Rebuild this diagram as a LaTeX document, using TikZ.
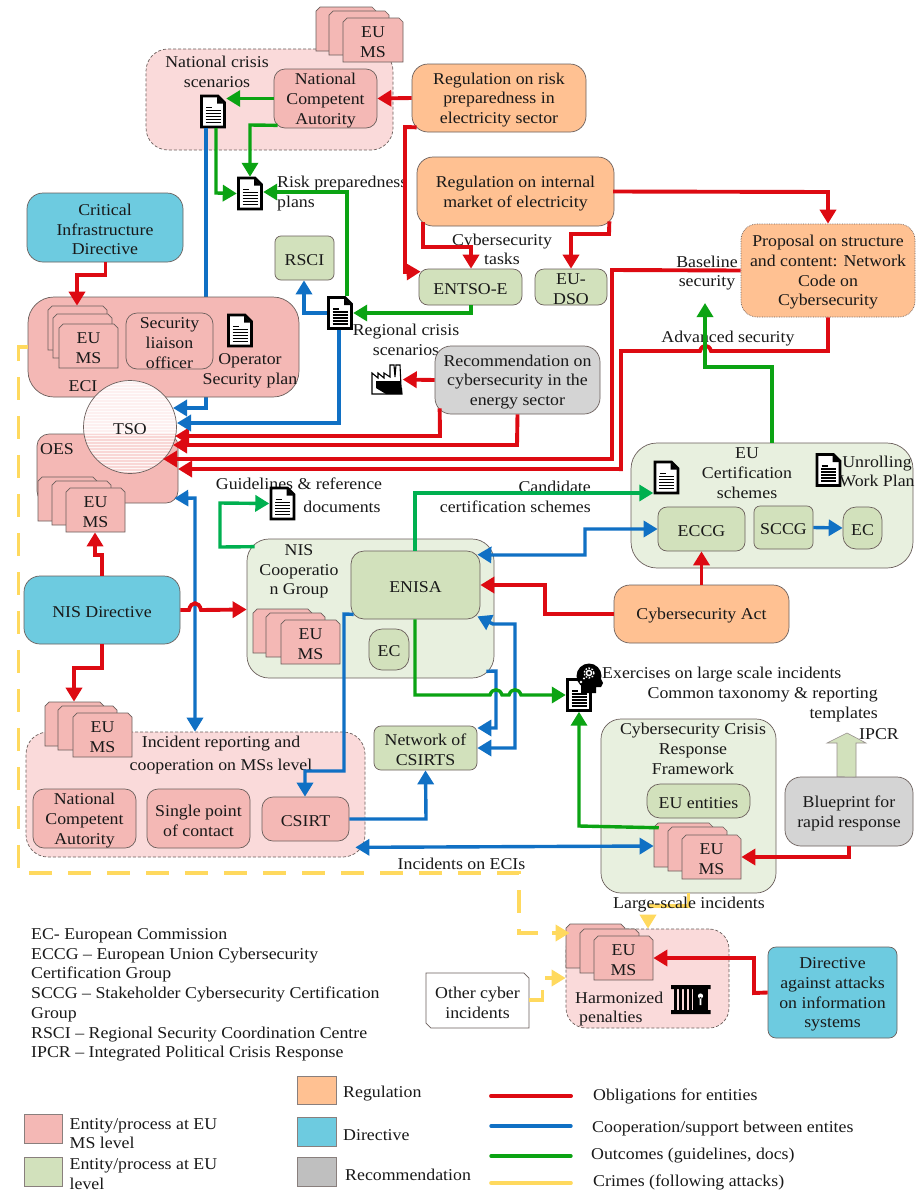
\documentclass[tikz,border=0pt]{standalone}
\usepackage{fontspec}
\setmainfont[FakeStretch=1.08]{Liberation Serif}
\usetikzlibrary{arrows.meta,shapes.misc,calc}
\definecolor{edge}{HTML}{6B5F5C}
\definecolor{palepink}{HTML}{FADADA}
\definecolor{pink}{HTML}{F4B8B5}
\definecolor{palegreen}{HTML}{E8F0DF}
\definecolor{midgreen}{HTML}{D2E1BC}
\definecolor{orange}{HTML}{FFC192}
\definecolor{dirblue}{HTML}{6DCBE0}
\definecolor{recgray}{HTML}{D4D4D4}
\definecolor{redl}{HTML}{DD0A12}
\definecolor{bluel}{HTML}{1070C4}
\definecolor{greenl}{HTML}{0BA313}
\definecolor{lgreenl}{HTML}{00B050}
\definecolor{yell}{HTML}{FFD95E}
\tikzset{
  every node/.style={font=\fontsize{16.5}{19.7}\selectfont,text=black!90,align=center,inner sep=0pt},
  rbox/.style={draw=edge,line width=.7pt,rounded corners=#1},
  rbox/.default=12pt,
  pinkbox/.style={rbox=#1,fill=pink},
  pinkbox/.default=12pt,
  greenbox/.style={rbox=#1,fill=midgreen},
  greenbox/.default=8pt,
  palegbox/.style={rbox=#1,fill=palegreen},
  orangebox/.style={rbox=16pt,fill=orange},
  bluebox/.style={rbox=16pt,fill=dirblue},
  graybox/.style={rbox=16pt,fill=recgray},
  dashbox/.style={draw=edge,line width=.7pt,densely dashed,fill=palepink,rounded corners=#1},
  lbl/.style={yshift=-2pt},
  lft/.style={align=left,anchor=west},
  rgt/.style={align=right,anchor=east},
  snip/.style={chamfered rectangle,chamfered rectangle corners={north west,north east},
     chamfered rectangle xsep=4pt,chamfered rectangle ysep=5pt,draw=edge,line width=.7pt,fill=pink},
  tip/.style={-{Triangle[length=14pt,width=16pt]}},
  tips/.style={{Triangle[length=14pt,width=16pt]}-{Triangle[length=14pt,width=16pt]}},
  rl/.style={draw=redl,line width=3.9pt,line join=miter},
  bl/.style={draw=bluel,line width=3.4pt,line join=miter},
  gl/.style={draw=greenl,line width=3.4pt,line join=miter},
  lg/.style={draw=lgreenl,line width=3.4pt,line join=miter},
  yl/.style={draw=yell,line width=3.6pt,dash pattern=on 23pt off 16pt},
  ys/.style={draw=yell,line width=3.6pt},
  swatch/.style={draw=edge!80,line width=.9pt},
}
\newcommand\bx[7]{%
  \pgfmathsetmacro\bw{#5-#3}\pgfmathsetmacro\bh{#6-#4}%
  \node[#2,minimum width=\bw pt,minimum height=\bh pt] (#1) at ({(#3+#5)/2},{(#4+#6)/2}) {};
  \node[lbl] (#1t) at (#1.center) {#7};}
\newcommand\stk[8]{%
  \node[snip,minimum width=#4pt,minimum height=44pt] (#1b) at ({#7+#4/2},{#8+22}) {\rule{0pt}{15pt}};
  \node[snip,minimum width=#4pt,minimum height=44pt] (#1m) at ({#5+#4/2},{#6+22}) {\rule{0pt}{15pt}};
  \node[snip,minimum width=#4pt,minimum height=44pt] (#1) at ({#2+#4/2},{#3+22}) {\rule{0pt}{15pt}};
  \node[lbl] (#1t) at (#1.center) {EU\\MS};}
\newcommand\doc[3]{%
  \node[minimum width=26pt,minimum height=33pt] (#1) at (#2,#3) {};
  \begin{scope}[shift={(#2,#3)}]
    \draw[line width=2.6pt,fill=white,line join=miter] (-11.5,-15.5) -- (5,-15.5) -- (11.5,-9) -- (11.5,15.5) -- (-11.5,15.5) -- cycle;
    \fill (4,-15) -- (4,-8) -- (11,-8) -- cycle;
    \draw[line width=1.2pt] (-7,-4) -- (-1,-4);
    \foreach \yy in {-1,2,5,8,11} {\draw[line width=1.4pt] (-7.5,\yy) -- (7.5,\yy);}
  \end{scope}}
\begin{document}
\begin{tikzpicture}[x=1pt,y=-1pt]
\useasboundingbox (0,0) rectangle (922,1200);
\fill[white] (0,0) rectangle (922,1200);

% ---- National crisis group
\bx{natbox}{dashbox=22pt}{146}{49}{393}{150}{}
\stk{topms}{343}{18}{60}{329}{11}{316}{7}
\bx{nca}{pinkbox=11pt}{274}{69}{377}{128}{National\\Competent\\Autority}
\node[lbl] (natlbl) at (217,70) {National crisis\\scenarios};
\doc{dnat}{213}{111.5}
\doc{drisk}{250}{193.5}
\node[lbl,lft] (risklbl) at (277,191.5) {Risk preparedness\\plans};

% ---- blue line passing behind ECI
\draw[bl,tip] (dnat.south -| 206,0) -- (206,408) -- (173,408);

% ---- Left column
\bx{cid}{bluebox}{27}{193}{183}{262}{Critical\\Infrastructure\\Directive}
\bx{eci}{pinkbox=26pt}{28}{297}{299}{397}{}
\stk{ecims}{59}{324}{59}{53}{314}{48}{306}
\bx{slo}{rbox=11pt}{126}{313}{213}{369}{Security\\liaison\\officer}
\doc{dop}{240}{330.5}
\node[lbl] (oplbl) at (250,368.5) {Operator\\Security plan};
\node[lbl] (ecilbl) at (83,384) {ECI};
\bx{oes}{pinkbox=12pt}{37}{434}{178}{503}{}
\node[lbl] (oeslbl) at (57,447) {OES};
\stk{oesms}{66}{488}{59}{52}{481}{38}{477}
% TSO
\begin{scope}
  \clip (130,427) circle (46.5);
  \fill[white!60!palepink] (80,375) rectangle (180,434);
  \fill[palepink!90!pink] (80,434) rectangle (180,480);
  \foreach \yy in {381,384,...,474} {\draw[white,line width=.5pt,opacity=.8] (80,\yy) -- (180,\yy);}
\end{scope}
\node[circle,draw=edge,line width=.7pt,minimum size=93pt] (tso) at (130,427) {};
\node[lbl] (tsot) at (tso.center) {TSO};
\bx{nisd}{bluebox}{24}{576}{180}{644}{NIS Directive}

% ---- Top middle
\bx{reg1}{orangebox}{412}{64}{586}{132}{Regulation on risk\\preparedness in\\electricity sector}
\bx{reg2}{orangebox}{417}{157}{614}{226}{Regulation on internal\\market of electricity}
\bx{rsci}{greenbox=6pt}{275}{236}{334}{280}{RSCI}
\bx{entso}{greenbox=9pt}{419}{269}{522}{305}{ENTSO-E}
\bx{dso}{greenbox=9pt}{535}{269}{607}{305}{EU-\\DSO}
\node[lbl] (cytask) at (502,247.5) {Cybersecurity\\tasks};
\bx{prop}{rbox=16pt,fill=orange,densely dotted}{741}{224}{915}{317}{Proposal on structure\\and content: Network\\Code on\\Cybersecurity}
\node[lbl] (baselbl) at (707,271) {Baseline\\security};
\node[lbl] (advlbl) at (728,337) {Advanced security};
\doc{dreg}{340}{313}
\node[lbl] (reglbl) at (406,338) {Regional crisis\\scenarios};
\bx{rec}{graybox}{435}{346}{600}{414}{Recommendation on\\cybersecurity in the\\energy sector}
% factory icon
\node[minimum width=31pt,minimum height=31pt] (fact) at (387,379.5) {};
\draw[line width=1.1pt,fill=white,line join=miter] (372,394) -- (372,373) -- (378,378) -- (378,373) -- (384,378) -- (384,373) -- (390,377) -- (390,365) -- (394,365) -- (395,377) -- (396,365) -- (400,365) -- (401,386) -- (402,394) -- cycle;
\fill (376,381) rectangle (401,388);
\fill (376,388) -- (402,388) -- (402,394) -- (386,394) -- cycle;

% ---- Cert schemes
\bx{cert}{palegbox=26pt}{631}{443}{913}{568}{}
\doc{dcert}{666.5}{477.5}
\doc{dunr}{828.5}{470}
\node[lbl] (certlbl) at (747,471) {EU\\Certification\\schemes};
\node[lbl] (unrlbl) at (877,469.5) {Unrolling\\Work Plan};
\bx{eccg}{greenbox=9pt}{658}{507}{745}{551}{ECCG}
\bx{sccg}{greenbox=6pt}{754}{506}{813}{549}{SCCG}
\bx{ecb}{greenbox=13pt}{843}{507}{882}{549}{EC}
\bx{act}{orangebox}{614}{585}{789}{643}{Cybersecurity Act}
\node[lbl,rgt] (candlbl) at (591,495) {Candidate\\certification schemes};

% ---- NIS cooperation
\node[lbl] (guide1) at (299,482) {Guidelines \& reference};
\node[lbl] (guide2) at (342,505) {documents};
\doc{dguide}{282.5}{503.5}
\bx{nisc}{palegbox=22pt}{247}{539}{494}{678}{}
\bx{enisa}{greenbox=13pt}{351}{551}{480}{619}{ENISA}
\node[lbl] (nislbl) at (299,569.5) {NIS\\Cooperatio\\n Group};
\stk{nisms}{281}{620}{59}{266}{613}{253}{609}
\bx{eca}{greenbox=13pt}{369}{629}{409}{670}{EC}

% ---- Incident reporting
\bx{inc}{dashbox=22pt}{26}{732}{365}{857}{}
\stk{incms}{73}{713}{59}{58}{706}{45}{702}
\node[lbl] (inclbl) at (221,753) {Incident reporting and\\[2.4pt]cooperation on MSs level};
\bx{nca2}{pinkbox=11pt}{33}{789}{136}{848}{National\\Competent\\Autority}
\bx{spoc}{pinkbox=11pt}{147}{789}{250}{848}{Single point\\of contact}
\bx{csirt}{pinkbox=11pt}{262}{797}{349}{841}{CSIRT}
\bx{netw}{greenbox=7pt}{374}{726}{477}{770}{Network of\\CSIRTS}
\node[lbl] (incECI) at (461.5,862) {Incidents on ECIs};

% ---- Crisis framework
\bx{crf}{palegbox=20pt}{601}{719}{776}{893}{}
\node[lbl] (crflbl) at (693,747) {Cybersecurity Crisis\\Response\\Framework};
\bx{euent}{greenbox=13pt}{647}{784}{750}{818}{EU entities}
\stk{crfms}{682}{835}{59}{668}{827}{654}{823}
\bx{blue}{graybox}{785}{777}{913}{846}{Blueprint for\\rapid response}
\node[lbl,lft] (exlbl) at (602,673) {Exercises on large scale incidents};
\node[lbl,rgt] (taxlbl) at (878,703) {Common taxonomy \& reporting\\templates};
\node[lbl] (ipcr) at (879,732) {IPCR};
\draw[draw=edge!70,line width=.6pt,fill=midgreen] (blue.north -| 837,0) -- (837,743) -- (827,743) -- (847,733) -- (866,743) -- (856,743) -- (856,777) -- cycle;
\doc{dex}{579}{695}
\fill (589,676) circle (12.5);
\fill (581,682) -- (581,693) -- (596,693) -- (596,687) -- (601,687) -- (603,683) -- (600,677) -- cycle;
\draw[white,line width=1.5pt] (589,673) circle (2.6);
\draw[white,line width=1.3pt,dash pattern=on 1.6pt off 1.6pt] (589,673) circle (5);
\fill[white] (581,682) circle (1.4) (584,678.5) circle (1.2);

% ---- Harmonized
\bx{harm}{dashbox=20pt}{566}{929}{729}{1028}{}
\stk{harmms}{594}{936}{59}{580}{929}{566}{924}
\node[lbl,lft] (harmlbl) at (575,1007) {Harmonized\\\hspace*{4pt}penalties};
\node[minimum width=39pt,minimum height=29pt] (jail) at (691,999.5) {};
\fill (671,985) rectangle (710.5,989) (671,1010) rectangle (710.5,1014);
\foreach \xx in {674,679,684,689} {\fill (\xx,985) rectangle (\xx+2.6,1014);}
\fill (693,985) rectangle (708,1014);
\fill[white] (700.5,996) circle (2.6) (699.7,997) rectangle (701.3,1005);
\node[chamfered rectangle,chamfered rectangle corners={north east,south west},chamfered rectangle xsep=5pt,chamfered rectangle ysep=7pt,draw=edge,line width=.7pt,fill=white,minimum width=103pt,minimum height=55pt] (other) at (477.5,1000.5) {\rule{0pt}{15pt}};
\node[lbl] (othert) at (other.center) {Other cyber\\incidents};
\bx{dirat}{rbox=8pt,fill=dirblue}{768}{947}{897}{1038}{Directive\\against attacks\\on information\\systems}

% ---- Red connectors
\draw[rl,tip] (reg1.west) -- (nca.east);
\draw[rl,tip] ([shift={(5,-5)}]reg1.south west) -- (405,127) -- (405,272) -- ([shift={(2,3)}]entso.north west);
\draw[rl] (reg2.south west -| 423,0) ++(0,-4) -- (423,247) -- (473,247);
\draw[rl,tip] (471,245) -- (entso.north -| 471,0);
\draw[rl,tip] ([shift={(-5,-5)}]reg2.south east) -- (609,234) -- (571,234) -- (dso.north -| 571,0);
\draw[rl,tip] (reg2.east -| 613,192) -- (828,192) -- (prop.north -| 828,0);
\draw[rl,tip] (cid.south -| 105.5,0) -- (105.5,275) -- (77,275) -- (ecimsb.north -| 77,0);
\draw[rl,tip] (rec.west) -- (fact.east);
\draw[rl,tip] ([shift={(5,-6)}]rec.south west) -- (440,436) -- (175,436);
\draw[rl,tip] (rec.south) -- (517,445) -- (173,445);
\draw[rl,tip] (prop.west) -- (612,270) -- (612,459) -- (163,459);
\draw[rl] (prop.south -| 828,0) -- (828,351) -- (711,351) .. controls (709,344) and (702,344) .. (700,351) -- (621,351) -- (621,471);
\draw[rl,tip] (623,469) -- (178,469);
\draw[rl,tip] (nisd.north -| 102,0) -- (102,555) -- (95,555) -- (oesms.south -| 95,0);
\draw[rl,tip] (nisd.south -| 102,0) -- (102,668) -- (74,668) -- (incmsb.north -| 74,0);
\draw[rl,tip] (eccg.south |- act.north) -- (eccg.south);
\draw[rl,tip] (act.west) -- (545,614) -- (545,585) -- (enisa.east);
\draw[rl,tip] (blue.south -| 849,0) -- (849,857) -- (crfms.east);
\draw[rl,tip] (dirat.west) -- (754,993) -- (754,958) -- (harmms.east);

% ---- Blue connectors
\draw[bl,tip] (dreg.west) -- (304,313) -- (rsci.south -| 304,0);
\draw[bl,tip] (dreg.south -| 339,0) -- (339,423) -- (177,423);
\draw[bl,tips] ([shift={(-4,-5)}]oes.south east) -- (195,498) -- (inc.north -| 195,0);
\draw[bl,tip] ([shift={(3,-5)}]enisa.south west) -- (344,614) -- (344,771) -- (305,771) -- (csirt.north -| 305,0);
\draw[bl,tip] (csirt.east) -- (426,819) -- (netw.south);
\draw[bl,tips] ([shift={(-3,4)}]enisa.north east) -- (494,555) -- (585,555) -- (585,529) -- (eccg.west);
\draw[bl,tips] ([shift={(-3,-3)}]enisa.south east) -- (493,624) -- (515,624) -- (515,748) -- (netw.east |- 0,748);
\draw[bl,tip] ([shift={(-8,-7)}]nisc.south east) -- (496,671) -- (496,728) -- (netw.east |- 0,728);
\draw[bl,tip] (sccg.east) -- (ecb.west);
\draw[bl,tips] ([shift={(-10,-10)}]inc.south east) -- (crfmsb.west |- 0,846);

% ---- NIS directive to cooperation group, with a hop over the blue line
\draw[rl,tip] (nisd.east) -- (189,610) .. controls (191,601) and (199,601) .. (201,610) -- (nisc.west |- 0,609.5);

% ---- Green connectors
\draw[gl,tip] (nca.west) -- (dnat.east |- 0,98.5);
\draw[gl,tip] ([shift={(4,-3)}]nca.south west) -- (250,125) -- (drisk.north);
\draw[gl,tip] (dnat.south -| 216,0) -- (216,193) -- (drisk.west);
\draw[gl,tip] (entso.south -| 471,0) -- (471,313) -- (dreg.east);
\draw[gl,tip] (dreg.north -| 347,0) -- (347,192) -- (drisk.east |- 0,192);
\draw[lg,tip] ([shift={(8,8)}]nisc.north west) -- (220,547) -- (220,503) -- (dguide.west);
\draw[lg,tip] (enisa.north -| 415,0) -- (415,493) -- (dcert.west |- 0,493);
\draw[gl,tip] (enisa.south -| 415,0) -- (415,695) -- (490,695) .. controls (492,688) and (500,688) .. (502,695) -- (509,695) .. controls (511,688) and (519,688) .. (521,695) -- (dex.west);
\draw[gl,tip] ([shift={(3,3)}]crfmsb.north west) -- (579,826) -- (dex.south);
\draw[gl,tip] (cert.north -| 772,0) -- (772,367) -- (705,367) -- (705,303);

% ---- Yellow connectors
\draw[yl] (eci.west |- 0,347) -- (18.5,347) -- (18.5,873) -- (519,873) -- (519,933) -- (550,933);
\draw[ys,tip] (552,933) -- ([xshift=4]harmmsb.west |- 0,933);
\draw[ys] (other.east |- 0,1000) -- (542.5,1000) -- (542.5,990);
\draw[ys,tip] (545,978) -- (harm.west |- 0,978);
\draw[ys] (crf.south -| 688.5,0) -- (688.5,906) -- (648,906);
\draw[ys,tip] (648,916) -- (harm.north -| 648,0);
\node[lbl] (lslbl) at (689,903) {Large-scale incidents};

% ---- Glossary
\node[lbl,lft] (gloss) at (31,993) {EC- European Commission\\ECCG -- European Union Cybersecurity\\Certification Group\\SCCG -- Stakeholder Cybersecurity Certification\\Group\\RSCI -- Regional Security Coordination Centre\\IPCR -- Integrated Political Crisis Response};

% ---- Legend
\bx{sw1}{swatch,fill=orange}{297.5}{1076}{336}{1104}{}
\bx{sw2}{swatch,fill=dirblue}{297.5}{1117}{336}{1146}{}
\bx{sw3}{swatch,fill=black!25}{297.5}{1157}{336}{1186}{}
\bx{sw4}{swatch,fill=pink}{24}{1114}{62}{1143}{}
\bx{sw5}{swatch,fill=midgreen}{24}{1157}{62}{1186}{}
\node[lbl,lft] (t1) at (343,1092) {Regulation};
\node[lbl,lft] (t2) at (343,1133) {Directive};
\node[lbl,lft] (t3) at (345,1173) {Recommendation};
\node[lbl,lft] (t4) at (69.5,1131.5) {Entity/process at EU\\MS level};
\node[lbl,lft] (t5) at (69.5,1172) {Entity/process at EU\\level};
\node[lbl,lft] (t6) at (593,1094) {Obligations for entities};
\node[lbl,lft] (t7) at (592,1127) {Cooperation/support between entites};
\node[lbl,lft] (t8) at (591,1154) {Outcomes (guidelines, docs)};
\node[lbl,lft] (t9) at (593,1180) {Crimes (following attacks)};
\coordinate (la) at (491,1096); \coordinate (lb) at (571,1096);
\coordinate (lc) at (491,1126); \coordinate (ld) at (571,1126);
\coordinate (le) at (491,1156); \coordinate (lf) at (571,1156);
\coordinate (lh) at (491,1183); \coordinate (li) at (571,1183);
\draw[rl,line cap=round] (la) -- (lb);
\draw[bl,line cap=round] (lc) -- (ld);
\draw[gl,line cap=round] (le) -- (lf);
\draw[ys,line cap=round] (lh) -- (li);
\end{tikzpicture}
\end{document}
